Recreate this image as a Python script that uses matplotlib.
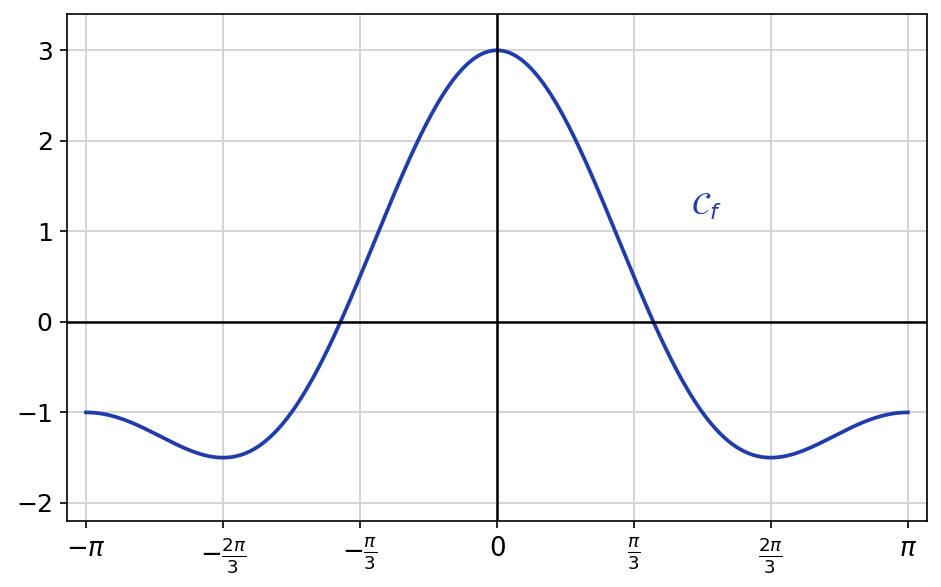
import numpy as np
import matplotlib
matplotlib.use("Agg")
import matplotlib.pyplot as plt

# f(x) = a1*cos(x) + a2*cos(2x)
coef_cos1 = 2.0
coef_cos2 = 1.0
x_range = (-np.pi, np.pi)
xtick_vals = [-np.pi, -2*np.pi/3, -np.pi/3, 0, np.pi/3, 2*np.pi/3, np.pi]
xtick_labels = [r'$-\pi$', r'$-\frac{2\pi}{3}$', r'$-\frac{\pi}{3}$', r'$0$',
                r'$\frac{\pi}{3}$', r'$\frac{2\pi}{3}$', r'$\pi$']
ytick_vals = [-2, -1, 0, 1, 2, 3]
curve_label = r'$\mathcal{C}_f$'

x = np.linspace(x_range[0], x_range[1], 600)
y = coef_cos1*np.cos(x) + coef_cos2*np.cos(2*x)

fig = plt.figure(figsize=(941/150, 587/150), dpi=150)
ax = fig.add_axes([0.0712, 0.1124, 0.9138, 0.8636])
color = '#1f3caa'
ax.plot(x, y, color=color, lw=1.8)
ax.axhline(0, color='black', lw=1.2)
ax.axvline(0, color='black', lw=1.2)
ax.grid(True, color='#d3d3d3', lw=0.9)
ax.set_axisbelow(True)
ax.set_xlim(-3.287, 3.287)
ax.set_ylim(-2.2, 3.4)
ax.set_xticks(xtick_vals)
ax.set_xticklabels(xtick_labels, fontsize=12.5)
ax.set_yticks(ytick_vals)
ax.set_yticklabels([f'${v}$' if v >= 0 else f'$-{abs(v)}$' for v in ytick_vals], fontsize=12)
ax.text(1.6, 1.27, curve_label, color=color, fontsize=15, ha='center', va='center')
fig.savefig('out.png', dpi=150)
